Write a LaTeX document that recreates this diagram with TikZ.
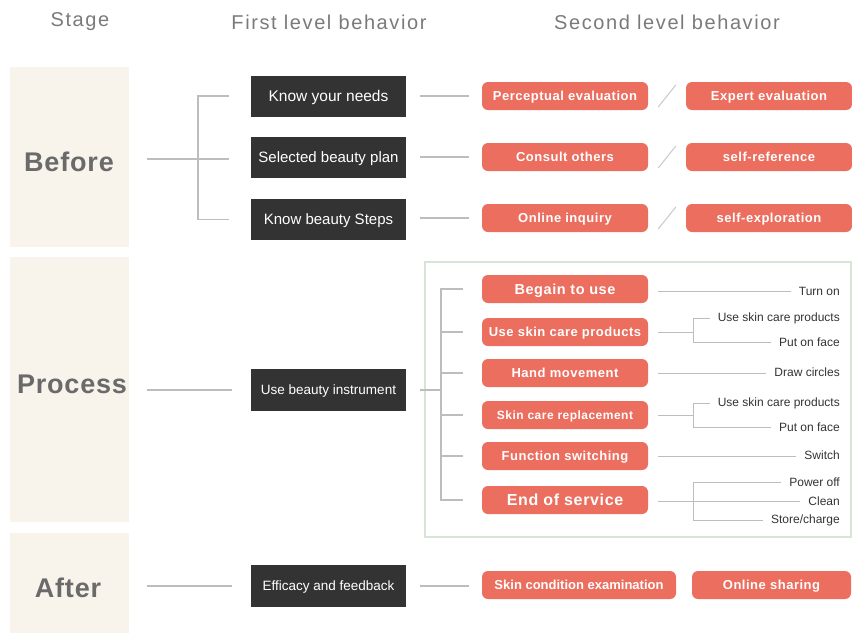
\documentclass[tikz,border=0pt]{standalone}
\usepackage{fontspec}
\setmainfont{Liberation Sans}
\newfontfamily\hdrfont[LetterSpace=8]{Liberation Sans}
\newfontfamily\stgfont[LetterSpace=3]{Liberation Sans}
\newfontfamily\redfont[LetterSpace=4]{Liberation Sans}
\definecolor{stagebg}{HTML}{F8F4EC}
\definecolor{redc}{HTML}{EB6E5F}
\definecolor{boxdark}{HTML}{333333}
\definecolor{linegray}{HTML}{BDBDBD}
\definecolor{slashgray}{HTML}{C8C8C8}
\definecolor{greenf}{HTML}{D6E5D8}
\definecolor{hdrgray}{HTML}{7A7A7A}
\definecolor{stagegray}{HTML}{6A6A6A}
\definecolor{leafc}{HTML}{333333}
\begin{document}
\begin{tikzpicture}[x=1pt,y=-1pt,
 hdr/.style={font=\hdrfont\fontsize{20}{24}\selectfont, text=hdrgray, inner sep=0},
 stagebox/.style={fill=stagebg, minimum width=119pt, inner sep=0, draw=none},
 stagelbl/.style={font=\stgfont\bfseries\fontsize{27}{32}\selectfont, text=stagegray, inner sep=0},
 bfs/.style={font=\fontsize{#1}{#1}\selectfont},
 blackbox/.style={fill=boxdark, text=white, minimum width=155pt, minimum height=41pt, inner sep=0, text height=10.6pt, text depth=0pt, bfs=15},
 rfs/.style={font=\redfont\bfseries\fontsize{#1}{#1}\selectfont},
 redbox/.style={fill=redc, text=white, rounded corners=6pt, minimum height=28pt, minimum width=166pt, inner sep=0, text height=9.4pt, text depth=0pt, rfs=13},
 leaf/.style={inner sep=0, anchor=east, font=\fontsize{12}{14}\selectfont, text=leafc},
 conn/.style={draw=linegray, line width=1.5pt},
 lconn/.style={draw=linegray, line width=1pt},
 slash/.style={draw=slashgray, line width=1pt}]
\useasboundingbox (0,0) rectangle (852,633);

% headers
\node[hdr] (hStage) at (80,22) {Stage};
\node[hdr] (hFirst) at (329,22) {First level behavior};
\node[hdr] (hSecond) at (667,22) {Second level behavior};

% stage backgrounds
\node[stagebox, minimum height=180pt] (bgBefore) at (69.5,157) {};
\node[stagebox, minimum height=265pt] (bgProcess) at (69.5,389.5) {};
\node[stagebox, minimum height=100pt] (bgAfter) at (69.5,583) {};
\node[stagelbl] (lBefore) at (69,162) {Before};
\node[stagelbl] (lProcess) at (72,384) {Process};
\node[stagelbl] (lAfter) at (68,588) {After};

% ---------- Before ----------
\node[blackbox, bfs=15.5, text height=11pt] (k1) at (328.5,96) {Know your needs};
\node[blackbox] (k2) at (328.5,157.5) {Selected beauty plan};
\node[blackbox] (k3) at (328.5,219.5) {Know beauty Steps};

\coordinate (bS) at (147,159);
\coordinate (bJ) at (198,159);
\draw[conn] (bS) -- (bJ);
\draw[conn] ([xshift=-22pt]k1.west) -- ([xshift=-53pt]k1.west) -- ([xshift=-53pt]k3.west) -- ([xshift=-22pt]k3.west);
\draw[conn] (bJ) -- ([xshift=-22pt]k2.west |- bJ);

\node[redbox] (r1a) at (565,96) {Perceptual evaluation};
\node[redbox] (r1b) at (769,96) {Expert evaluation};
\node[redbox] (r2a) at (565,157) {Consult others};
\node[redbox] (r2b) at (769,157) {self-reference};
\node[redbox] (r3a) at (565,218) {Online inquiry};
\node[redbox] (r3b) at (769,218) {self-exploration};

\foreach \a/\b in {k1/r1a,k2/r2a,k3/r3a}{
  \draw[conn] ([xshift=14pt]\a.east |- \b) -- ([xshift=-13pt]\b.west);
}
\foreach \a/\b in {r1a/r1b,r2a/r2b,r3a/r3b}{
  \draw[slash] ([xshift=10pt,yshift=-11pt]\a.east) -- ([xshift=-10pt,yshift=11pt]\b.west);
}

% ---------- Process ----------
\draw[greenf, line width=2pt] (425,262) rectangle (851,537);

\node[blackbox, minimum height=42pt, bfs=13.5, text height=9.6pt] (ub) at (328.5,390) {Use beauty instrument};
\draw[conn] ([xshift=18pt]bgProcess.east |- ub) -- ([xshift=-19pt]ub.west);

\node[redbox, rfs=14.5, text height=10.5pt] (p1) at (565,289) {Begain to use};
\node[redbox] (p2) at (565,332) {Use skin care products};
\node[redbox] (p3) at (565,373) {Hand movement};
\node[redbox, rfs=12, text height=8.6pt] (p4) at (565,415) {Skin care replacement};
\node[redbox] (p5) at (565,456) {Function switching};
\node[redbox, rfs=16, text height=11.5pt] (p6) at (565,500) {End of service};

\coordinate (pJ) at (441,390);
\draw[conn] ([xshift=14pt]ub.east) -- (pJ);
\draw[conn] ([xshift=-19pt]p1.west) -| (pJ |- p6) -- ([xshift=-19pt]p6.west);
\foreach \p in {p2,p3,p4,p5}{
  \draw[conn] (pJ |- \p) -- ([xshift=-19pt]\p.west);
}

% leaves
\node[leaf] (t1) at (840,291) {Turn on};
\node[leaf] (t2a) at (840,318) {Use skin care products};
\node[leaf] (t2b) at (840,342) {Put on face};
\node[leaf] (t3) at (840,372) {Draw circles};
\node[leaf] (t4a) at (840,403) {Use skin care products};
\node[leaf] (t4b) at (840,427) {Put on face};
\node[leaf] (t5) at (840,455) {Switch};
\node[leaf] (t6a) at (840,482) {Power off};
\node[leaf] (t6b) at (840,501) {Clean};
\node[leaf] (t6c) at (840,520) {Store/charge};

\draw[lconn] ([xshift=10pt]p1.east |- t1) -- ([xshift=-8pt]t1.west);
\draw[lconn] ([xshift=10pt]p3.east) -- ([xshift=-8pt]t3.west |- p3);
\draw[lconn] ([xshift=10pt]p5.east) -- ([xshift=-8pt]t5.west |- p5);

\coordinate (s2) at (693,332);
\draw[lconn] ([xshift=10pt]p2.east) -- (s2);
\draw[lconn] ([xshift=-8pt]t2a.west) -- (s2 |- t2a) -- (s2 |- t2b) -- ([xshift=-8pt]t2b.west);

\coordinate (s4) at (693,415);
\draw[lconn] ([xshift=10pt]p4.east) -- (s4);
\draw[lconn] ([xshift=-8pt]t4a.west) -- (s4 |- t4a) -- (s4 |- t4b) -- ([xshift=-8pt]t4b.west);

\coordinate (s6) at (693,501);
\draw[lconn] ([xshift=10pt]p6.east |- t6b) -- ([xshift=-8pt]t6b.west);
\draw[lconn] ([xshift=-8pt]t6a.west) -- (s6 |- t6a) -- (s6 |- t6c) -- ([xshift=-8pt]t6c.west);

% ---------- After ----------
\node[blackbox, minimum height=42pt, bfs=13.5, text height=9.6pt] (ef) at (328.5,586) {Efficacy and feedback};
\draw[conn] ([xshift=18pt]bgAfter.east |- ef) -- ([xshift=-19pt]ef.west);

\node[redbox, minimum width=194pt, font=\bfseries\fontsize{13}{13}\selectfont] (a1) at (579,585) {Skin condition examination};
\node[redbox, minimum width=159pt] (a2) at (771.5,585) {Online sharing};
\draw[conn] ([xshift=14pt]ef.east) -- ([xshift=-13pt]a1.west |- ef);

\end{tikzpicture}
\end{document}
